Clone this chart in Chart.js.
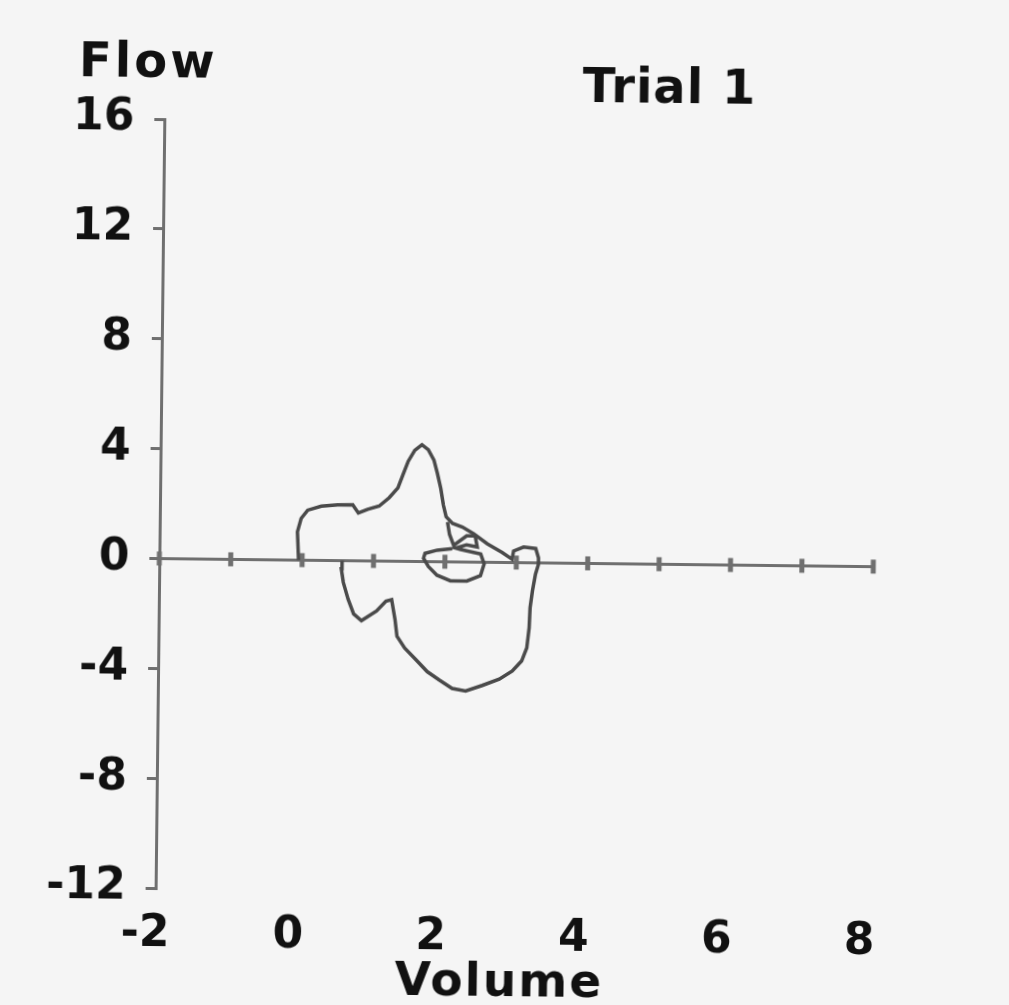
<!DOCTYPE html>
<html><head><meta charset="utf-8">
<script src="https://cdn.jsdelivr.net/npm/chart.js@4.4.1/dist/chart.umd.min.js"></script>
<style>
html,body{margin:0;padding:0;background:#f5f5f5;overflow:hidden;}
#wrap{width:1009px;height:1005px;transform:rotate(0.65deg);transform-origin:504.5px 502.5px;}
canvas{display:block;}
</style></head><body>
<div id="wrap"><canvas id="c" width="1009" height="1005"></canvas></div>
<script>
// Flow-volume loop (main trace)
const volume = [-0.05,-0.07,-0.02,0.07,0.26,0.49,0.70,0.78,0.91,1.07,1.21,1.33,1.40,1.47,1.56,1.66,1.75,1.83,1.88,1.93,1.97,2.01,2.10,2.24,2.40,2.59,2.80,2.94,2.96,3.10,3.27,3.31,3.31,3.27,3.23,3.20,3.19,3.16,3.09,2.96,2.78,2.54,2.31,2.12,1.94,1.77,1.61,1.45,1.34,1.31,1.26,1.18,1.05,0.84,0.73,0.65,0.58,0.55,0.56];
const flow = [0,1.03,1.52,1.82,1.97,2.03,2.04,1.74,1.88,2.0,2.31,2.67,3.16,3.64,4.04,4.25,4.07,3.70,3.22,2.67,2.06,1.64,1.40,1.27,1.03,0.67,0.36,0.12,0.42,0.57,0.52,0.18,-0.06,-0.42,-1.03,-1.64,-2.37,-3.10,-3.58,-3.95,-4.25,-4.49,-4.70,-4.61,-4.31,-4.01,-3.58,-3.16,-2.73,-2.12,-1.40,-1.46,-1.82,-2.18,-1.94,-1.40,-0.79,-0.30,0];
// small inner loop
const loopVolume = [2.03,2.06,2.12,2.30,2.42,2.45,2.30,2.15,2.22,2.50,2.55,2.50,2.31,2.08,1.89,1.77,1.70,1.72,1.89,2.10];
const loopFlow = [1.45,1.00,0.60,0.95,0.95,0.55,0.62,0.50,0.45,0.30,-0.06,-0.49,-0.69,-0.69,-0.49,-0.18,0.12,0.30,0.42,0.48];

const volumeTicks = [-2,0,2,4,6,8];
const flowTicks = [-12,-8,-4,0,4,8,12,16];
const volumeMarks = [-2,-1,0,1,2,3,4,5,6,7,8];
const chartTitle = 'Trial 1';
const yTitle = 'Flow';
const xTitle = 'Volume';

const FONT = '"DejaVu Sans", "Verdana", sans-serif';
const AXIS = '#6f6f6f';
const INK = '#111111';
const TRACE = '#4a4a4a';

const zeroAxis = {
  id: 'zeroAxis',
  beforeDatasetsDraw(chart) {
    const {ctx, scales: {x, y}} = chart;
    const y0 = y.getPixelForValue(0);
    ctx.save();
    ctx.strokeStyle = AXIS;
    ctx.lineWidth = 3;
    ctx.beginPath();
    ctx.moveTo(x.getPixelForValue(x.min), y0);
    ctx.lineTo(x.getPixelForValue(x.max), y0);
    ctx.stroke();
    ctx.lineWidth = 5;
    volumeMarks.forEach(v => {
      const px = x.getPixelForValue(v);
      ctx.beginPath();
      ctx.moveTo(px, y0 - 7);
      ctx.lineTo(px, y0 + 7);
      ctx.stroke();
    });
    ctx.restore();
  }
};

const texts = {
  id: 'texts',
  afterDraw(chart) {
    const {ctx} = chart;
    ctx.save();
    ctx.fillStyle = INK;
    ctx.textBaseline = 'alphabetic';
    ctx.font = 'bold 48px ' + FONT;
    ctx.textAlign = 'left';
    ctx.letterSpacing = '3px';
    ctx.fillText(yTitle, 74, 81);
    ctx.letterSpacing = '1px';
    ctx.textAlign = 'left';
    ctx.fillText(chartTitle, 578, 101);
    ctx.font = 'bold 47px ' + FONT;
    ctx.letterSpacing = '2px';
    ctx.fillText(xTitle, 400, 996);
    ctx.restore();
  }
};

new Chart(document.getElementById('c'), {
  type: 'scatter',
  data: {
    datasets: [
      {
        data: volume.map((v, i) => ({x: v, y: flow[i]})),
        showLine: true, borderColor: TRACE, borderWidth: 3.5, pointRadius: 0, fill: false, tension: 0
      },
      {
        data: loopVolume.map((v, i) => ({x: v, y: loopFlow[i]})),
        showLine: true, borderColor: TRACE, borderWidth: 3.5, pointRadius: 0, fill: false, tension: 0
      }
    ]
  },
  options: {
    responsive: false,
    animation: false,
    devicePixelRatio: 1,
    layout: {padding: {top: 123, right: 135, bottom: 0, left: 0}},
    plugins: {legend: {display: false}, tooltip: {enabled: false}, title: {display: false}},
    scales: {
      x: {
        type: 'linear', min: -2, max: 8, position: 'bottom',
        afterBuildTicks: s => { s.ticks = volumeTicks.map(v => ({value: v})); },
        afterFit: s => { s.height = 113; },
        grid: {display: false, drawTicks: false},
        border: {display: false},
        ticks: {color: INK, font: {family: FONT, size: 44, weight: 'bold'}, padding: 20, labelOffset: -10, maxRotation: 0},
        title: {display: false, text: xTitle}
      },
      y: {
        type: 'linear', min: -12, max: 16, position: 'left',
        afterBuildTicks: s => { const t = []; for (let v = -12; v <= 16; v += 2) t.push({value: v}); s.ticks = t; },
        afterFit: s => { s.width = 160; },
        grid: {drawOnChartArea: false, drawTicks: true, tickLength: 10, tickColor: AXIS, lineWidth: 3},
        border: {display: true, color: AXIS, width: 3},
        ticks: {
          color: INK, font: {family: FONT, size: 44, weight: 'bold'}, padding: 20,
          callback: v => flowTicks.includes(v) ? String(v) : ''
        }
      }
    }
  },
  plugins: [zeroAxis, texts]
});
</script>
</body></html>
